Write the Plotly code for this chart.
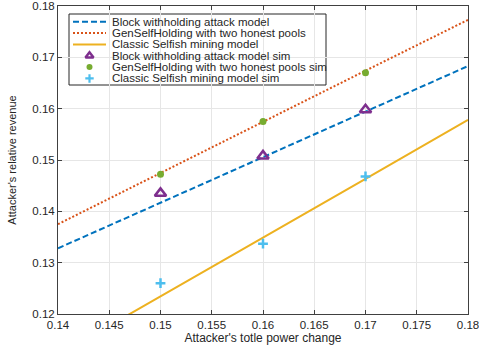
import plotly.graph_objects as go

# Model lines
x_line = [0.14, 0.15, 0.16, 0.17, 0.18]
block_model = [0.1328, 0.1417, 0.1506, 0.1594, 0.1683]
gen_model = [0.1375, 0.1475, 0.1574, 0.1674, 0.1773]
classic_model = [0.1120, 0.1234, 0.1349, 0.1463, 0.1578]

# Simulation points
x_sim = [0.15, 0.16, 0.17]
block_sim = [0.1435, 0.1508, 0.1598]
gen_sim = [0.1472, 0.1575, 0.1670]
classic_sim = [0.1260, 0.1337, 0.1468]

x_ticks = [0.14, 0.145, 0.15, 0.155, 0.16, 0.165, 0.17, 0.175, 0.18]
x_ticklabels = ["0.14", "0.145", "0.15", "0.155", "0.16", "0.165", "0.17", "0.175", "0.18"]
y_ticks = [0.12, 0.13, 0.14, 0.15, 0.16, 0.17, 0.18]
y_ticklabels = ["0.12", "0.13", "0.14", "0.15", "0.16", "0.17", "0.18"]

names = ["Block withholding attack model",
         "GenSelfHolding with two honest pools",
         "Classic Selfish mining model",
         "Block withholding attack model sim",
         "GenSelfHolding with two honest pools sim",
         "Classic Selfish mining model sim"]

line_styles = [dict(color="#0072BD", width=2, dash="6px,3px"),
               dict(color="#D95319", width=2, dash="2px,2px"),
               dict(color="#EDB120", width=2)]
marker_styles = [dict(symbol="triangle-up-open", color="#7E2F8E", size=10,
                      line=dict(width=2.5, color="#7E2F8E")),
                 dict(symbol="circle", color="#77AC30", size=7, line=dict(width=0)),
                 dict(symbol="cross-thin-open", color="#4DBEEE", size=7,
                      line=dict(width=2.5, color="#4DBEEE"))]
legend_marker_styles = [dict(symbol="triangle-up-open", color="#7E2F8E", size=7,
                             line=dict(width=2.5, color="#7E2F8E")),
                        dict(symbol="circle", color="#77AC30", size=6, line=dict(width=0)),
                        dict(symbol="cross-thin-open", color="#4DBEEE", size=6,
                             line=dict(width=2.2, color="#4DBEEE"))]

fig = go.Figure()
for ys, nm, ls in zip([block_model, gen_model, classic_model], names[:3], line_styles):
    fig.add_trace(go.Scatter(x=x_line, y=ys, mode="lines", name=nm, line=ls,
                             showlegend=False))
for ys, nm, ms in zip([block_sim, gen_sim, classic_sim], names[3:], marker_styles):
    fig.add_trace(go.Scatter(x=x_sim, y=ys, mode="markers", name=nm, marker=ms,
                             showlegend=False))

# ---- custom legend (plot-area fractional coordinates) ----
PX0, PX1, PY0, PY1 = 58, 468, 6, 314
def fx(px):
    return (px - PX0) / (PX1 - PX0)
def fy(py):
    return (PY1 - py) / (PY1 - PY0)

shapes = [dict(type="rect", xref="paper", yref="paper",
               x0=fx(69), x1=fx(326), y0=fy(85), y1=fy(14),
               line=dict(color="#262626", width=1), fillcolor="white", layer="between")]
annotations = []
row_y = [21.7 + 11.35 * i for i in range(6)]
for i, nm in enumerate(names):
    if i < 3:
        ls = line_styles[i]
        shapes.append(dict(type="line", xref="paper", yref="paper",
                           x0=fx(73), x1=fx(106), y0=fy(row_y[i]), y1=fy(row_y[i]),
                           line=dict(color=ls["color"], width=2, dash=ls.get("dash", "solid")),
                           layer="above"))
    annotations.append(dict(xref="paper", yref="paper", x=fx(110), y=fy(row_y[i]),
                            text=nm, showarrow=False, xanchor="left", yanchor="middle",
                            font=dict(family="Liberation Sans, Arial", size=11.5, color="#262626")))

for i in range(3):
    fig.add_trace(go.Scatter(x=[fx(89.5)], y=[fy(row_y[3 + i])], mode="markers",
                             marker=legend_marker_styles[i], xaxis="x2", yaxis="y2",
                             showlegend=False, hoverinfo="skip", cliponaxis=False))

axis_common = dict(showline=True, linecolor="#404040", linewidth=1, mirror="ticks",
                   ticks="inside", ticklen=4, tickcolor="#404040",
                   showgrid=True, gridcolor="#E6E6E6", gridwidth=1, zeroline=False,
                   ticklabeloverflow="allow", automargin=False,
                   tickfont=dict(family="Liberation Sans, Arial", size=11.5, color="#262626"))

fig.update_layout(
    width=479, height=345,
    margin=dict(l=58, r=11, t=6, b=31),
    paper_bgcolor="white", plot_bgcolor="white",
    font=dict(family="Liberation Sans, Arial", size=11, color="#262626"),
    xaxis=dict(range=[0.14, 0.18], tickvals=x_ticks, ticktext=x_ticklabels,
               title=dict(text="Attacker's totle power change", standoff=0,
                          font=dict(size=12)), **axis_common),
    yaxis=dict(range=[0.12, 0.18], tickvals=y_ticks, ticktext=y_ticklabels,
               title=dict(text="Attacker's relative revenue", standoff=13,
                          font=dict(size=11)), **axis_common),
    xaxis2=dict(overlaying="x", range=[0, 1], visible=False),
    yaxis2=dict(overlaying="y", range=[0, 1], visible=False),
    shapes=shapes,
    annotations=annotations,
    showlegend=False,
)

fig.write_html("out.html")
